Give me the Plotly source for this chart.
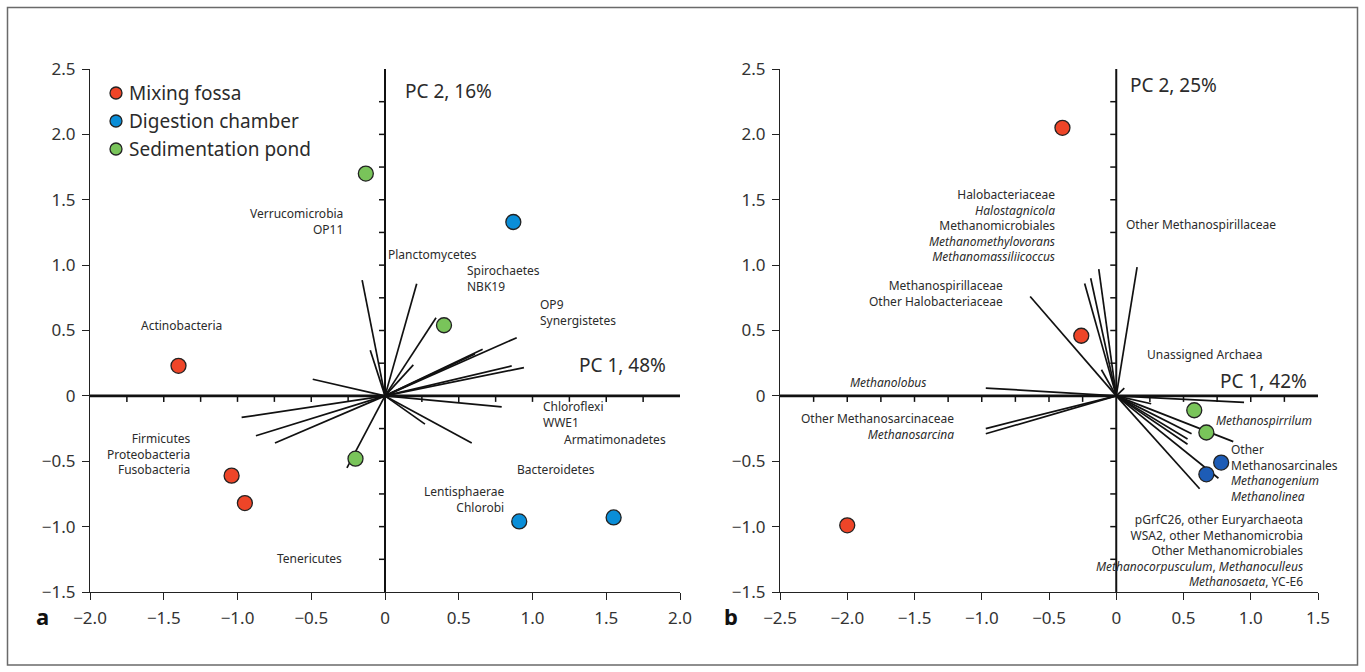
import plotly.graph_objects as go

# ---------------- data: panel a ----------------
a_mix_x = [-1.40, -1.04, -0.95]
a_mix_y = [0.23, -0.61, -0.82]
a_dig_x = [0.87, 0.91, 1.55]
a_dig_y = [1.33, -0.96, -0.93]
a_sed_x = [-0.13, 0.40, -0.20]
a_sed_y = [1.70, 0.54, -0.48]

a_vec_x = [-0.155, 0.215, 0.346, 0.192, -0.10, 0.893, 0.662, 0.610, 0.859, 0.942,
           -0.49, 0.791, 0.271, 0.588, -0.972, -0.875, -0.746, -0.258]
a_vec_y = [0.885, 0.857, 0.598, 0.237, 0.349, 0.445, 0.356, 0.320, 0.229, 0.216,
           0.127, -0.084, -0.216, -0.361, -0.165, -0.305, -0.361, -0.55]

# ---------------- data: panel b ----------------
b_mix_x = [-0.40, -0.26, -2.00]
b_mix_y = [2.05, 0.46, -0.99]
b_dig_x = [0.78, 0.67]
b_dig_y = [-0.51, -0.60]
b_sed_x = [0.58, 0.67]
b_sed_y = [-0.11, -0.28]

b_vec_x = [-0.64, -0.235, -0.19, -0.13, 0.155, -0.11, 0.06, -0.97, -0.97, -0.97,
           0.95, 0.26, 0.87, 0.56, 0.53, 0.53, 0.76, 0.62]
b_vec_y = [0.76, 0.86, 0.90, 0.97, 0.985, 0.20, 0.06, 0.06, -0.25, -0.29,
           -0.05, -0.06, -0.35, -0.29, -0.33, -0.37, -0.63, -0.71]

# ---------------- ticks ----------------
a_xticks = [-2.0, -1.5, -1.0, -0.5, 0, 0.5, 1.0, 1.5, 2.0]
a_xtext = ["\u22122.0", "\u22121.5", "\u22121.0", "\u22120.5", "0", "0.5", "1.0", "1.5", "2.0"]
b_xticks = [-2.5, -2.0, -1.5, -1.0, -0.5, 0, 0.5, 1.0, 1.5]
b_xtext = ["\u22122.5", "\u22122.0", "\u22121.5", "\u22121.0", "\u22120.5", "0", "0.5", "1.0", "1.5"]
yticks = [-1.5, -1.0, -0.5, 0, 0.5, 1.0, 1.5, 2.0, 2.5]
ytext = ["\u22121.5", "\u22121.0", "\u22120.5", "0", "0.5", "1.0", "1.5", "2.0", "2.5"]

a_minor_x = [-1.75, -1.5, -1.25, -1.0, -0.75, -0.5, -0.25, 0.25, 0.5, 0.75, 1.0, 1.25, 1.5, 1.75]
b_minor_x = [-2.25, -2.0, -1.75, -1.5, -1.25, -1.0, -0.75, -0.5, -0.25, 0.25, 0.5, 0.75, 1.0, 1.25]
minor_y = [-1.25, -1.0, -0.75, -0.5, -0.25, 0.25, 0.5, 0.75, 1.0, 1.25, 1.5, 1.75, 2.0, 2.25]

# ---------------- labels ----------------
a_labels = [
    ("Verrucomicrobia<br>OP11", -0.27, 1.332, "right"),
    ("Actinobacteria", -1.38, 0.54, "center"),
    ("Planctomycetes", 0.01, 1.08, "left"),
    ("Spirochaetes<br>NBK19", 0.54, 0.897, "left"),
    ("OP9<br>Synergistetes", 1.04, 0.634, "left"),
    ("Chloroflexi<br>WWE1", 1.06, -0.145, "left"),
    ("Armatimonadetes", 1.92, -0.33, "right"),
    ("Bacteroidetes", 0.88, -0.56, "left"),
    ("Lentisphaerae<br>Chlorobi", 0.82, -0.79, "right"),
    ("Firmicutes<br>Proteobacteria<br>Fusobacteria", -1.30, -0.447, "right"),
    ("Tenericutes", -0.51, -1.24, "center"),
]
b_labels = [
    ("Halobacteriaceae<br><i>Halostagnicola</i><br>Methanomicrobiales<br><i>Methanomethylovorans</i><br><i>Methanomassiliicoccus</i>", -0.44, 1.30, "right"),
    ("Methanospirillaceae<br>Other Halobacteriaceae", -0.83, 0.78, "right"),
    ("Other Methanospirillaceae", 0.06, 1.31, "left"),
    ("Unassigned Archaea", 0.21, 0.32, "left"),
    ("<i>Methanolobus</i>", -1.70, 0.10, "center"),
    ("Other Methanosarcinaceae<br><i>Methanosarcina</i>", -1.19, -0.237, "right"),
    ("<i>Methanospirrilum</i>", 0.73, -0.19, "left"),
    ("Other<br>Methanosarcinales<br><i>Methanogenium</i><br><i>Methanolinea</i>", 0.84, -0.59, "left"),
    ("pGrfC26, other Euryarchaeota<br>WSA2, other Methanomicrobia<br>Other Methanomicrobiales<br>"
     "<i>Methanocorpusculum</i>, <i>Methanoculleus</i><br><i>Methanosaeta</i>, YC-E6", 1.40, -1.18, "right"),
]
a_pc = [("PC 2, 16%", 0.12, 2.33, "left"), ("PC 1, 48%", 1.30, 0.24, "left")]
b_pc = [("PC 2, 25%", 0.085, 2.38, "left"), ("PC 1, 42%", 1.43, 0.11, "right")]

series_names = ["Mixing fossa", "Digestion chamber", "Sedimentation pond"]
RED = "#ee4528"
BLUE_A = "#0a8ed8"
BLUE_B = "#1d5cb6"
GREEN = "#79c45a"
legend_colors = [RED, BLUE_A, GREEN]

FONT = "Noto Sans"
TXT = "#2b2b2b"
W, H = 1365, 672

fig = go.Figure()


def vectors(xs, ys, xa, ya):
    lx, ly = [], []
    for vx, vy in zip(xs, ys):
        lx += [0, vx, None]
        ly += [0, vy, None]
    fig.add_trace(go.Scatter(x=lx, y=ly, mode="lines", xaxis=xa, yaxis=ya,
                             line=dict(color="#111111", width=1.7),
                             showlegend=False, hoverinfo="skip"))


def points(xs, ys, color, name, xa, ya):
    fig.add_trace(go.Scatter(x=xs, y=ys, mode="markers", xaxis=xa, yaxis=ya, name=name,
                             marker=dict(size=15, color=color,
                                         line=dict(color="#222222", width=1.3)),
                             showlegend=False))


vectors(a_vec_x, a_vec_y, "x", "y")
vectors(b_vec_x, b_vec_y, "x2", "y2")
points(a_mix_x, a_mix_y, RED, series_names[0], "x", "y")
points(a_dig_x, a_dig_y, BLUE_A, series_names[1], "x", "y")
points(a_sed_x, a_sed_y, GREEN, series_names[2], "x", "y")
points(b_mix_x, b_mix_y, RED, series_names[0], "x2", "y2")
points(b_dig_x, b_dig_y, BLUE_B, series_names[1], "x2", "y2")
points(b_sed_x, b_sed_y, GREEN, series_names[2], "x2", "y2")

shapes = []
# zero axes
for xr, yr, xlo, xhi in [("x", "y", -2.0, 2.0), ("x2", "y2", -2.5, 1.5)]:
    shapes.append(dict(type="line", xref=xr, yref=yr, x0=xlo, x1=xhi, y0=0, y1=0,
                       line=dict(color="#111111", width=2.6)))
    shapes.append(dict(type="line", xref=xr, yref=yr, x0=0, x1=0, y0=-1.5, y1=2.5,
                       line=dict(color="#111111", width=2.0)))
for xr, yr, mx in [("x", "y", a_minor_x), ("x2", "y2", b_minor_x)]:
    for v in mx:
        shapes.append(dict(type="line", xref=xr, yref=yr, ysizemode="pixel", yanchor=0,
                           x0=v, x1=v, y0=0, y1=-6, line=dict(color="#111111", width=1.5)))
    for v in minor_y:
        shapes.append(dict(type="line", xref=xr, yref=yr, xsizemode="pixel", xanchor=0,
                           x0=-6, x1=0, y0=v, y1=v, line=dict(color="#111111", width=1.5)))
# outer frame
shapes.append(dict(type="rect", xref="paper", yref="paper",
                   x0=7.5 / W, x1=1357.5 / W, y0=1 - 665 / H, y1=1 - 7.5 / H,
                   line=dict(color="#6a6a6a", width=1.5)))

annotations = []
# legend (keys drawn as pixel-sized circles, text as annotations)
for i, (name, col) in enumerate(zip(series_names, legend_colors)):
    cy = 1 - (93 + 28 * i) / H
    shapes.append(dict(type="circle", xref="paper", yref="paper",
                       xsizemode="pixel", ysizemode="pixel",
                       xanchor=116 / W, yanchor=cy, x0=-6, x1=6, y0=-6, y1=6,
                       fillcolor=col, line=dict(color="#222222", width=1.3)))
    annotations.append(dict(text=name, x=127 / W, y=cy, xref="paper", yref="paper",
                            xanchor="left", yanchor="middle", showarrow=False,
                            font=dict(family=FONT, size=19, color=TXT)))

for labels, xr, yr in [(a_labels, "x", "y"), (b_labels, "x2", "y2")]:
    for text, lx, ly, anc in labels:
        annotations.append(dict(text=text, x=lx, y=ly, xref=xr, yref=yr, xanchor=anc,
                                yanchor="middle", align=anc, showarrow=False,
                                font=dict(family=FONT, size=12, color=TXT)))
for labels, xr, yr in [(a_pc, "x", "y"), (b_pc, "x2", "y2")]:
    for text, lx, ly, anc in labels:
        annotations.append(dict(text=text, x=lx, y=ly, xref=xr, yref=yr, xanchor=anc,
                                yanchor="middle", showarrow=False,
                                font=dict(family=FONT, size=19, color=TXT)))
annotations.append(dict(text="<b>a</b>", x=42 / W, y=1 - 616 / H, xref="paper", yref="paper",
                        xanchor="center", yanchor="middle", showarrow=False,
                        font=dict(family=FONT, size=22, color="#111111")))
annotations.append(dict(text="<b>b</b>", x=731 / W, y=1 - 616 / H, xref="paper", yref="paper",
                        xanchor="center", yanchor="middle", showarrow=False,
                        font=dict(family=FONT, size=22, color="#111111")))

ydom = [1 - 592 / H, 1 - 69 / H]
axis_common = dict(showgrid=False, zeroline=False, showline=True, linecolor="#222222",
                   linewidth=1.3, ticks="outside", ticklen=7, tickwidth=1.3,
                   tickcolor="#222222", tickfont=dict(family=FONT, size=17, color="#333333"),
                   ticklabelstandoff=3, fixedrange=True, automargin=False)

fig.update_layout(
    width=W, height=H, autosize=False,
    margin=dict(l=0, r=0, t=0, b=0, pad=0),
    paper_bgcolor="white", plot_bgcolor="white",
    font=dict(family=FONT, color=TXT),
    showlegend=False,
    xaxis=dict(domain=[90 / W, 680 / W], range=[-2.0, 2.0], anchor="y",
               tickmode="array", tickvals=a_xticks, ticktext=a_xtext, **axis_common),
    yaxis=dict(domain=ydom, range=[-1.5, 2.5], anchor="x",
               tickmode="array", tickvals=yticks, ticktext=ytext, **axis_common),
    xaxis2=dict(domain=[780 / W, 1318 / W], range=[-2.5, 1.5], anchor="y2",
                tickmode="array", tickvals=b_xticks, ticktext=b_xtext, **axis_common),
    yaxis2=dict(domain=ydom, range=[-1.5, 2.5], anchor="x2",
                tickmode="array", tickvals=yticks, ticktext=ytext, **axis_common),
    shapes=shapes, annotations=annotations,
)

fig.write_html("out.html", config={"displayModeBar": False},
               post_script="document.body.style.margin='0';document.body.style.overflow='hidden';")
